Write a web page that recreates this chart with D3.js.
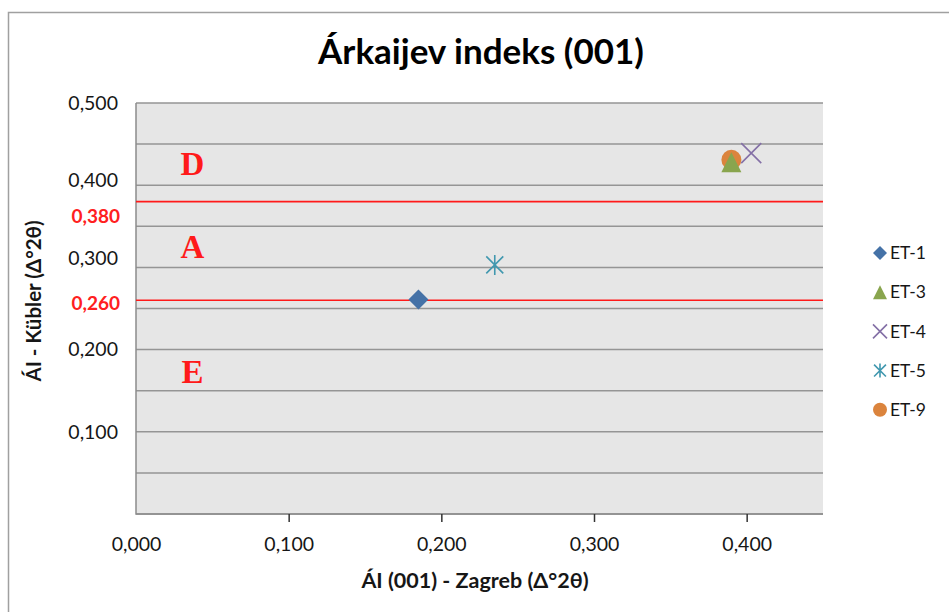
<!DOCTYPE html>
<html>
<head>
<meta charset="utf-8">
<script src="https://cdn.jsdelivr.net/npm/d3@7"></script>
<style>
  html, body { margin: 0; padding: 0; background: #fff; }
  svg { display: block; }
</style>
</head>
<body>
<svg id="chart" width="949" height="612"></svg>
<script>
// ---------------- DATA ----------------
const chartTitle = "Árkaijev indeks (001)";
const xAxisTitle = "ÁI (001) - Zagreb (Δ°2θ)";
const yAxisTitle = "ÁI - Kübler (Δ°2θ)";

const seriesNames  = ["ET-1", "ET-3", "ET-4", "ET-5", "ET-9"];
const seriesX      = [0.185, 0.390, 0.403, 0.235, 0.390];
const seriesY      = [0.261, 0.428, 0.439, 0.303, 0.431];
const seriesShapes = ["diamond", "triangle", "x", "star", "circle"];
const seriesColors = ["#4572A7", "#89A54E", "#8470A6", "#4198AF", "#DB843D"];
const drawOrder    = [4, 0, 1, 2, 3]; // ET-9 sits behind ET-3

const xDomain = [0, 0.45];
const yDomain = [0, 0.5];
const xTickValues = [0, 0.1, 0.2, 0.3, 0.4];
const xTickLabels = ["0,000", "0,100", "0,200", "0,300", "0,400"];
const yGridValues = [0, 0.05, 0.1, 0.15, 0.2, 0.25, 0.3, 0.35, 0.4, 0.45, 0.5];
const yTickLabels = ["0,500", "0,400", "0,300", "0,200", "0,100"];
const yTickAnchors = [0.5, 0.406, 0.311, 0.2, 0.1];

const limitValues = [0.38, 0.26];
const limitLabels = ["0,380", "0,260"];
const limitLabelAnchors = [0.362, 0.256];

const zoneLetters = ["D", "A", "E"];
const zoneX = [0.037, 0.037, 0.037];
const zoneY = [0.426, 0.325, 0.173];

// ---------------- LAYOUT ----------------
const svg = d3.select("#chart");
const W = 949, H = 612;
const plot = { left: 136, right: 823, top: 103, bottom: 514 };
const sansFont = "Lato, 'Open Sans', sans-serif";
const textColor = "#161616";

const x = d3.scaleLinear().domain(xDomain).range([plot.left, plot.right]);
const y = d3.scaleLinear().domain(yDomain).range([plot.bottom, plot.top]);

svg.append("rect").attr("width", W).attr("height", H).attr("fill", "#fff");

// outer chart border (top + left visible)
svg.append("path")
  .attr("d", `M8.5,${H} L8.5,12.5 L${W},12.5`)
  .attr("fill", "none").attr("stroke", "#a0a0a0").attr("stroke-width", 1.5);

// title
svg.append("text")
  .attr("x", 481).attr("y", 64)
  .attr("text-anchor", "middle")
  .attr("font-family", sansFont).attr("font-weight", 700)
  .attr("font-size", 35).attr("fill", "#000")
  .text(chartTitle);

// plot area background
svg.append("rect")
  .attr("x", x(xDomain[0])).attr("y", y(yDomain[1]))
  .attr("width", x(xDomain[1]) - x(xDomain[0]))
  .attr("height", y(yDomain[0]) - y(yDomain[1]))
  .attr("fill", "#e6e6e6");

// gridlines
svg.append("g").selectAll("line").data(yGridValues).join("line")
  .attr("x1", x(xDomain[0])).attr("x2", x(xDomain[1]))
  .attr("y1", d => y(d)).attr("y2", d => y(d))
  .attr("stroke", "#959595").attr("stroke-width", 1.5);

// plot border left + bottom
svg.append("path")
  .attr("d", `M${x(0)},${y(yDomain[1])} L${x(0)},${y(0)} L${x(xDomain[1])},${y(0)}`)
  .attr("fill", "none").attr("stroke", "#8c8c8c").attr("stroke-width", 1.5);

// x axis via d3.axisBottom
const xAxis = d3.axisBottom(x)
  .tickValues(xTickValues)
  .tickFormat((d, i) => xTickLabels[i])
  .tickSize(8).tickPadding(15);
const gx = svg.append("g").attr("transform", `translate(0,${y(0)})`).call(xAxis);
gx.select(".domain").remove();
gx.selectAll(".tick line").attr("stroke", "#333").attr("stroke-width", 1.5)
  .attr("display", d => d === 0 ? "none" : null);
gx.selectAll(".tick text")
  .attr("font-family", sansFont).attr("font-size", 19.5).attr("fill", textColor);

// y tick labels (placed at their label anchors)
svg.append("g").selectAll("text").data(yTickLabels).join("text")
  .attr("x", 118).attr("y", (d, i) => y(yTickAnchors[i]))
  .attr("dy", "0.35em").attr("text-anchor", "end")
  .attr("font-family", sansFont).attr("font-size", 19.5).attr("fill", textColor)
  .text(d => d);

// red limit lines
svg.append("g").selectAll("line").data(limitValues).join("line")
  .attr("x1", x(xDomain[0])).attr("x2", x(xDomain[1]))
  .attr("y1", d => y(d)).attr("y2", d => y(d))
  .attr("stroke", "#ff1a1a").attr("stroke-width", 1.6);

svg.append("g").selectAll("text").data(limitLabels).join("text")
  .attr("x", 120).attr("y", (d, i) => y(limitLabelAnchors[i]))
  .attr("dy", "0.35em").attr("text-anchor", "end")
  .attr("font-family", sansFont).attr("font-weight", 700)
  .attr("font-size", 19).attr("fill", "#ff2020")
  .text(d => d);

// zone letters
svg.append("g").selectAll("text").data(zoneLetters).join("text")
  .attr("x", (d, i) => x(zoneX[i])).attr("y", (d, i) => y(zoneY[i]))
  .attr("dy", "0.35em").attr("text-anchor", "middle")
  .attr("font-family", "'Liberation Serif', 'DejaVu Serif', serif")
  .attr("font-weight", 700).attr("font-size", 33).attr("fill", "#ff1a1a")
  .text(d => d);

// axis titles
svg.append("text")
  .attr("x", 475).attr("y", 588)
  .attr("text-anchor", "middle")
  .attr("font-family", sansFont).attr("font-weight", 700)
  .attr("font-size", 21.5).attr("fill", textColor)
  .text(xAxisTitle);

svg.append("text")
  .attr("transform", "translate(41,301) rotate(-90)")
  .attr("text-anchor", "middle")
  .attr("font-family", sansFont).attr("font-weight", 700)
  .attr("font-size", 20.5).attr("fill", textColor)
  .text(yAxisTitle);

// marker drawing
function drawMarker(g, shape, color, r) {
  if (shape === "diamond") {
    g.append("path").attr("d", `M0,${-r}L${r},0L0,${r}L${-r},0Z`).attr("fill", color);
  } else if (shape === "triangle") {
    g.append("path").attr("d", `M0,${-r}L${r},${r}L${-r},${r}Z`).attr("fill", color);
  } else if (shape === "circle") {
    g.append("circle").attr("r", r).attr("fill", color);
  } else if (shape === "x") {
    g.append("path").attr("d", `M${-r},${-r}L${r},${r}M${-r},${r}L${r},${-r}`)
      .attr("stroke", color).attr("stroke-width", 1.6).attr("fill", "none");
  } else if (shape === "star") {
    const a = r * 0.85;
    g.append("path").attr("d", `M0,${-r}L0,${r}M${-a},${-a}L${a},${a}M${-a},${a}L${a},${-a}`)
      .attr("stroke", color).attr("stroke-width", 1.6).attr("fill", "none");
  }
}

// points
const pts = svg.append("g");
drawOrder.forEach(i => {
  const g = pts.append("g").attr("transform", `translate(${x(seriesX[i])},${y(seriesY[i])})`);
  drawMarker(g, seriesShapes[i], seriesColors[i], 10);
});

// legend
const legendTop = 253, legendStep = 39.2;
const leg = svg.append("g");
seriesNames.forEach((name, i) => {
  const row = leg.append("g").attr("transform", `translate(880,${legendTop + i * legendStep})`);
  drawMarker(row, seriesShapes[i], seriesColors[i], 7);
  row.append("text").attr("x", 10).attr("dy", "0.35em")
    .attr("font-family", sansFont).attr("font-size", 17.5).attr("fill", textColor)
    .text(name);
});
</script>
</body>
</html>
